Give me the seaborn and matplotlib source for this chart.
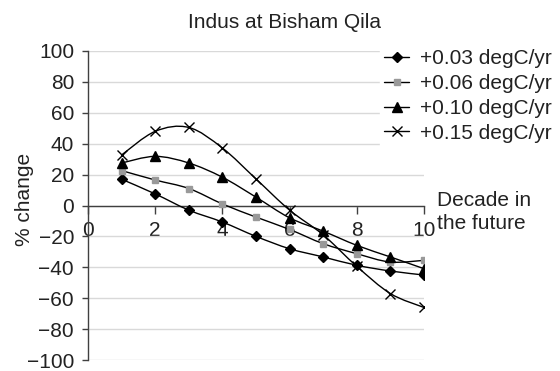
import matplotlib
matplotlib.use("Agg")
import matplotlib.pyplot as plt
from matplotlib.path import Path
from matplotlib.patches import PathPatch
import seaborn as sns
import pandas as pd

title = "Indus at Bisham Qila"
decades = [1, 2, 3, 4, 5, 6, 7, 8, 9, 10]
series_names = ["+0.03 degC/yr", "+0.06 degC/yr", "+0.10 degC/yr", "+0.15 degC/yr"]
s003 = [17, 7.5, -3, -10.7, -20, -28, -33.3, -38.7, -42.4, -45]
s006 = [22.6, 16.5, 11, 1, -7.5, -15.5, -24.7, -31.2, -36.6, -35.5]
s010 = [27.5, 31.8, 27.5, 18.3, 5.4, -8, -16.6, -25.8, -33.3, -40.9]
s015 = [32.7, 48, 50.5, 37.2, 17.2, -3, -19, -39.4, -57, -66]
y_ticks = [-100, -80, -60, -40, -20, 0, 20, 40, 60, 80, 100]
x_ticks = [0, 2, 4, 6, 8, 10]

sns.set_theme(style="white")
plt.rcParams["font.family"] = ["Liberation Sans", "DejaVu Sans"]

fig = plt.figure(figsize=(5.6, 3.71), dpi=100)
ax = fig.add_axes([88 / 560, 1 - 360 / 371, (424 - 88) / 560, (360 - 51) / 371])


def smooth_path(xs, ys):
    # Bezier path through the data points (chart-style smoothed line)
    pts = list(zip(xs, ys))
    n = len(pts)
    verts = [pts[0]]
    codes = [Path.MOVETO]
    for i in range(n - 1):
        p0 = pts[i - 1] if i > 0 else pts[i]
        p1 = pts[i]
        p2 = pts[i + 1]
        p3 = pts[i + 2] if i + 2 < n else pts[i + 1]
        c1 = (p1[0] + (p2[0] - p0[0]) / 6, p1[1] + (p2[1] - p0[1]) / 6)
        c2 = (p2[0] - (p3[0] - p1[0]) / 6, p2[1] - (p3[1] - p1[1]) / 6)
        verts += [c1, c2, p2]
        codes += [Path.CURVE4] * 3
    return Path(verts, codes)


styles = [
    dict(marker="D", mfc="black", mec="black", ms=5),
    dict(marker="s", mfc="#999999", mec="#999999", ms=5),
    dict(marker="^", mfc="black", mec="black", ms=7),
    dict(marker="x", mfc="black", mec="black", ms=7),
]
all_vals = [s003, s006, s010, s015]
for name, vals, st in zip(series_names, all_vals, styles):
    df = pd.DataFrame({"decade": decades, "change": vals})
    sns.lineplot(data=df, x="decade", y="change", ax=ax, color="black", lw=1,
                 marker=st["marker"], markerfacecolor=st["mfc"], markeredgecolor=st["mec"],
                 markersize=st["ms"], markeredgewidth=1, label=name, zorder=3)

leg = ax.legend(loc="upper left", bbox_to_anchor=(380 / 560, 1 - 45 / 371),
                bbox_transform=fig.transFigure, frameon=True, fontsize=15,
                handlelength=1.2, handletextpad=0.5, labelspacing=0.28,
                borderpad=0.2, borderaxespad=0, facecolor="white", edgecolor="white",
                framealpha=1, fancybox=False)
for t in leg.get_texts():
    t.set_color("#222222")

# replace straight connectors with smoothed curves (legend keeps its handles)
for line in ax.get_lines():
    line.set_linestyle("None")
for vals in all_vals:
    ax.add_patch(PathPatch(smooth_path(decades, vals), facecolor="none",
                           edgecolor="black", lw=1, zorder=2))

ax.set_xlim(0, 10)
ax.set_ylim(-100, 100)
ax.set_yticks(y_ticks)
ax.set_xticks(x_ticks)
ax.yaxis.grid(True, color="#d9d9d9", lw=1)
ax.xaxis.grid(False)
for s in ["top", "right"]:
    ax.spines[s].set_visible(False)
ax.spines["bottom"].set_position(("data", 0))
ax.spines["bottom"].set_color("#404040")
ax.spines["left"].set_color("#404040")
ax.spines["bottom"].set_linewidth(1)
ax.spines["left"].set_linewidth(1)
ax.spines["bottom"].set_zorder(1.5)
ax.tick_params(axis="y", direction="out", length=4, width=1, color="#404040",
               labelsize=15, pad=6, left=True, labelcolor="#222222")
ax.tick_params(axis="x", direction="out", length=6, width=1, color="#404040",
               labelsize=15, pad=5, bottom=True, labelcolor="#222222")
ax.set_xlabel("")
ax.set_ylabel("% change", fontsize=15, color="#222222")
ax.yaxis.set_label_coords(-0.162, 0.52)

fig.text(285 / 560, 1 - 22 / 371, title, ha="center", va="center", fontsize=15, color="#222222")
fig.text(437 / 560, 1 - 212 / 371, "Decade in\nthe future", ha="left", va="center",
         fontsize=15, color="#222222", linespacing=1.3)

fig.savefig("out.png", dpi=100)
